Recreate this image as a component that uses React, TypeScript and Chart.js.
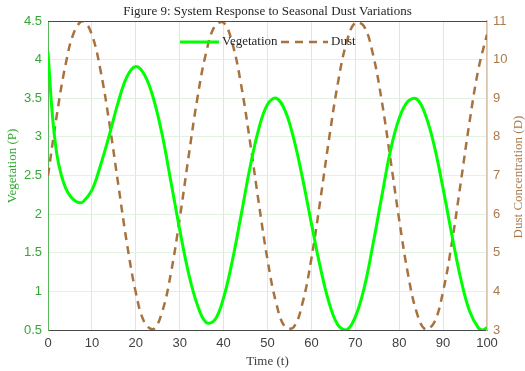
import React, { useEffect, useRef } from "react";
import { Chart, registerables } from "chart.js";

Chart.register(...registerables);

const TITLE = "Figure 9: System Response to Seasonal Dust Variations";
const X_TITLE = "Time (t)";
const Y_TITLE = "Vegetation (P)";
const Y1_TITLE = "Dust Concentration (D)";

const VEG_TIME = [
  0, 1, 2, 3, 4, 5, 6, 7, 8, 10, 12, 14, 16, 18, 20, 22, 24, 26, 28, 30, 32, 34, 36, 38, 40, 42, 44, 46, 48,
  50, 52, 54, 56, 58, 60, 62, 64, 66, 68, 70, 72, 74, 76, 78, 80, 82, 84, 86, 88, 90, 92, 94, 96, 98, 99, 100,
];

const VEGETATION = [
  4.1, 3.28, 2.78, 2.51, 2.34, 2.24, 2.18, 2.15, 2.16, 2.31, 2.64, 3.03, 3.45, 3.78, 3.91, 3.8, 3.5, 3.03,
  2.42, 1.8, 1.24, 0.83, 0.6, 0.63, 0.92, 1.4, 1.99, 2.6, 3.1, 3.42, 3.5, 3.34, 2.97, 2.46, 1.88, 1.32,
  0.86, 0.57, 0.5, 0.67, 1.04, 1.6, 2.22, 2.82, 3.24, 3.46, 3.49, 3.28, 2.88, 2.33, 1.73, 1.17, 0.75, 0.53,
  0.5, 0.53,
];

const DUST_TIME = [
  0, 2, 4, 6, 8, 10, 12, 14, 16, 18, 20, 22, 24, 26, 28, 30, 32, 34, 36, 38, 40, 42, 44, 46, 48, 50, 52,
  54, 56, 58, 60, 62, 64, 66, 68, 70, 72, 74, 76, 78, 80, 82, 84, 86, 88, 90, 92, 94, 96, 98, 100,
];

const DUST = [
  7.0, 8.56, 9.87, 10.73, 11.0, 10.64, 9.7, 8.34, 6.77, 5.23, 3.97, 3.19, 3.02, 3.47, 4.47, 5.88, 7.47,
  8.98, 10.17, 10.87, 10.96, 10.42, 9.34, 7.89, 6.3, 4.82, 3.69, 3.08, 3.08, 3.71, 4.85, 6.34, 7.93,
  9.37, 10.44, 10.96, 10.86, 10.15, 8.95, 7.43, 5.85, 4.45, 3.45, 3.01, 3.2, 4.0, 5.26, 6.8, 8.37, 9.73,
  10.65,
];

const GREEN_LINE = "#00ff00";
const GREEN_TEXT = "#34a834";
const BROWN_LINE = "#a8723f";
const BROWN_TEXT = "#a87a4c";
const SERIF = '"Liberation Serif", "Times New Roman", serif';
const SANS = '"Liberation Sans", Arial, sans-serif';

const decorPlugin = {
  id: "decor",
  afterDraw(chart: any) {
    const { ctx, chartArea: a } = chart;
    ctx.save();
    ctx.strokeStyle = "#4a4a4a";
    ctx.lineWidth = 1;
    ctx.beginPath();
    ctx.moveTo(a.left, a.top + 0.5);
    ctx.lineTo(a.right, a.top + 0.5);
    ctx.stroke();

    ctx.fillStyle = "#262626";
    ctx.font = `13px ${SERIF}`;
    ctx.textAlign = "center";
    ctx.textBaseline = "middle";
    ctx.fillText(TITLE, (a.left + a.right) / 2, 12);

    ctx.fillStyle = "#404040";
    ctx.fillText(X_TITLE, (a.left + a.right) / 2, 362);

    ctx.save();
    ctx.translate(13, 166);
    ctx.rotate(-Math.PI / 2);
    ctx.fillStyle = GREEN_TEXT;
    ctx.fillText(Y_TITLE, 0, 0);
    ctx.restore();

    ctx.save();
    ctx.translate(519, 177);
    ctx.rotate(-Math.PI / 2);
    ctx.fillStyle = BROWN_TEXT;
    ctx.fillText(Y1_TITLE, 0, 0);
    ctx.restore();

    const ly = 42;
    const ds = chart.data.datasets;
    ctx.textAlign = "left";
    ctx.fillStyle = "#262626";
    ctx.lineWidth = 3;
    ctx.strokeStyle = ds[0].borderColor;
    ctx.setLineDash([]);
    ctx.beginPath();
    ctx.moveTo(180, ly);
    ctx.lineTo(219, ly);
    ctx.stroke();
    ctx.fillText(ds[0].label, 222, ly);

    ctx.lineWidth = 2.5;
    ctx.strokeStyle = ds[1].borderColor;
    ctx.setLineDash(ds[1].borderDash);
    ctx.beginPath();
    ctx.moveTo(281, ly);
    ctx.lineTo(328, ly);
    ctx.stroke();
    ctx.setLineDash([]);
    ctx.fillText(ds[1].label, 331, ly);
    ctx.restore();
  },
};

const fmt = (v: any) => String(Number(v));

export default function App() {
  const ref = useRef<HTMLCanvasElement | null>(null);

  useEffect(() => {
    if (!ref.current) return;
    const chart = new Chart(ref.current, {
      type: "line",
      data: {
        datasets: [
          {
            label: "Vegetation",
            data: VEG_TIME.map((t, i) => ({ x: t, y: VEGETATION[i] })),
            borderColor: GREEN_LINE,
            borderWidth: 3,
            pointRadius: 0,
            tension: 0.4,
            yAxisID: "y",
          },
          {
            label: "Dust",
            data: DUST_TIME.map((t, i) => ({ x: t, y: DUST[i] })),
            borderColor: BROWN_LINE,
            borderWidth: 2.5,
            borderDash: [8, 6],
            pointRadius: 0,
            tension: 0.4,
            yAxisID: "y1",
          },
        ],
      },
      options: {
        animation: false,
        responsive: false,
        maintainAspectRatio: false,
        layout: { padding: { top: 21, left: 0, right: 0, bottom: 0 } },
        plugins: {
          legend: { display: false },
          title: { display: false },
          tooltip: { enabled: false },
        },
        scales: {
          x: {
            type: "linear",
            min: 0,
            max: 100,
            ticks: { stepSize: 10, color: "#404040", font: { family: SANS, size: 13 }, padding: 6, maxRotation: 0, callback: fmt },
            grid: { color: "#e4e4e4", drawTicks: false },
            border: { color: "#4a4a4a", width: 1 },
            afterFit: (s: any) => {
              s.height = 41;
            },
          },
          y: {
            position: "left",
            min: 0.5,
            max: 4.5,
            ticks: { stepSize: 0.5, color: GREEN_TEXT, font: { family: SANS, size: 13 }, padding: 6, callback: fmt },
            grid: { color: "#e2f1e2", drawTicks: false },
            border: { color: "#5cb85c", width: 1 },
            afterFit: (s: any) => {
              s.width = 48;
            },
          },
          y1: {
            position: "right",
            min: 3,
            max: 11,
            ticks: { stepSize: 1, color: BROWN_TEXT, font: { family: SANS, size: 13 }, padding: 6, callback: fmt },
            grid: { display: false, drawTicks: false },
            border: { color: "#d9c2aa", width: 1.5 },
            afterFit: (s: any) => {
              s.width = 38;
            },
          },
        },
      },
      plugins: [decorPlugin],
    });
    return () => chart.destroy();
  }, []);

  return (
    <div style={{ position: "fixed", left: 0, top: 0, width: 525, height: 371, background: "#fff" }}>
      <canvas ref={ref} width={525} height={371} style={{ width: 525, height: 371 }} />
    </div>
  );
}
